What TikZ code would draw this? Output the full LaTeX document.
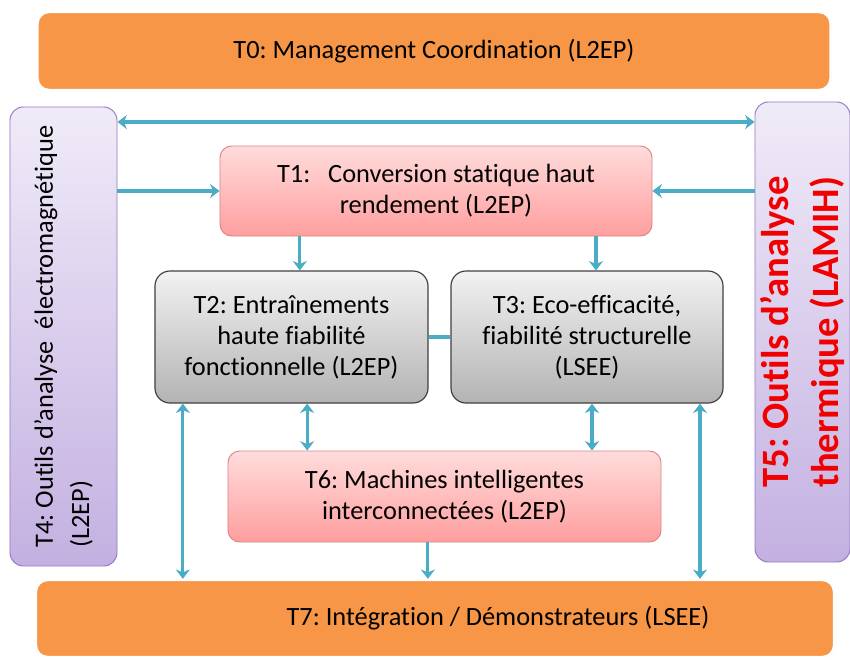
\documentclass[tikz,border=0pt]{standalone}
\usepackage{fontspec}
\setmainfont{Carlito}[Ligatures=NoCommon]
\frenchspacing
\usetikzlibrary{arrows.meta,shadows}

\definecolor{taskorange}{HTML}{F79646}
\definecolor{linkblue}{HTML}{4BACC6}
\definecolor{pinktop}{HTML}{FFDCDC}
\definecolor{pinkbot}{HTML}{FF9E9E}
\definecolor{pinkline}{HTML}{D98585}
\definecolor{greytop}{HTML}{F2F2F2}
\definecolor{greybot}{HTML}{B3B3B3}
\definecolor{lilactop}{HTML}{F0EBF8}
\definecolor{lilacbot}{HTML}{C3B0E1}
\definecolor{lilacline}{HTML}{9378C2}
\definecolor{thermred}{HTML}{F00000}

\tikzset{
  every node/.style={font=\fontsize{22.5}{26.5}\selectfont, align=center},
  orangebox/.style={rounded corners=0.35cm, fill=taskorange, draw=white, line width=2pt,
    drop shadow={opacity=0.25, shadow xshift=0.7pt, shadow yshift=-0.7pt}},
  pinkbox/.style={rounded corners=0.35cm, top color=pinktop, bottom color=pinkbot, draw=pinkline, line width=0.8pt},
  greybox/.style={rounded corners=0.45cm, top color=greytop, bottom color=greybot, draw=black!75, line width=1pt},
  lilacbox/.style={rounded corners=0.4cm, top color=lilactop, bottom color=lilacbot, draw=lilacline, line width=0.8pt},
  link/.style={linkblue, line width=2.8pt}
}

\begin{document}
\begin{tikzpicture}[x=0.03cm,y=-0.03cm,>={Stealth[length=8pt,width=12pt,inset=2.5pt]}]
    \useasboundingbox (0,0) rectangle (850,659);

    % management and integration bands
    \node[orangebox, minimum width=23.79cm, minimum height=2.34cm] (T0) at (434,51)
        {T0: Management Coordination (L2EP)};
    \node[orangebox, minimum width=23.94cm, minimum height=2.31cm,
        label={[xshift=1.89cm]center:T7: Intégration / Démonstrateurs (LSEE)}] (T7) at (435,618.5) {};

    % side tools
    \node[lilacbox, minimum width=3.21cm, minimum height=13.77cm,
        label={[rotate=90, align=left, font=\fontsize{22.5}{31}\selectfont]center:T4: Outils d’analyse\ \ électromagnétique\\(L2EP)}] (T4) at (63.5,336.5) {};
    \node[lilacbox, minimum width=2.85cm, minimum height=13.8cm,
        label={[rotate=90, text=thermred, font=\bfseries\fontsize{33}{42}\selectfont]center:T5: Outils d’analyse\\thermique (LAMIH)}] (T5) at (802.5,332) {};

    % central tasks
    \node[pinkbox, minimum width=12.96cm, minimum height=2.7cm] (T1) at (436,191)
        {T1:\ \ \ Conversion statique haut\\rendement (L2EP)};
    \node[greybox, minimum width=8.19cm, minimum height=3.96cm] (T2) at (291.5,337)
        {T2: Entraînements\\haute fiabilité\\fonctionnelle (L2EP)};
    \node[greybox, minimum width=8.16cm, minimum height=3.96cm] (T3) at (587,337)
        {T3: Eco-efficacité,\\fiabilité structurelle\\(LSEE)};
    \node[pinkbox, minimum width=12.99cm, minimum height=2.73cm] (T6) at (444.5,496.5)
        {T6: Machines intelligentes\\interconnectées (L2EP)};

    % feet of the vertical links
    \coordinate (toprow) at (0,122);
    \coordinate (p12) at ([xshift=0.25cm]T2.north);
    \coordinate (p13) at ([xshift=0.27cm]T3.north);
    \coordinate (p26) at ([xshift=0.47cm]T2.south);
    \coordinate (p36) at ([xshift=0.15cm]T3.south);
    \coordinate (p27) at ([xshift=-3.26cm]T2.south);
    \coordinate (p37) at ([xshift=3.39cm]T3.south);
    \coordinate (p67) at ([xshift=-0.5cm]T6.south);

    % links
    \draw[link,<->] (T4.east |- toprow) -- (T5.west |- toprow);
    \draw[link,->] (T4.east |- T1.west) -- (T1.west);
    \draw[link,->] (T5.west |- T1.east) -- (T1.east);
    \draw[link,->] (p12 |- T1.south) -- (p12);
    \draw[link,->] (p13 |- T1.south) -- (p13);
    \draw[link] (T2.east) -- (T3.west);
    \draw[link,<->] (p26) -- (p26 |- T6.north);
    \draw[link,<->] (p36) -- (p36 |- T6.north);
    \draw[link,<->] (p27) -- (p27 |- T7.north);
    \draw[link,<->] (p37) -- (p37 |- T7.north);
    \draw[link,->] (p67) -- (p67 |- T7.north);
\end{tikzpicture}
\end{document}
